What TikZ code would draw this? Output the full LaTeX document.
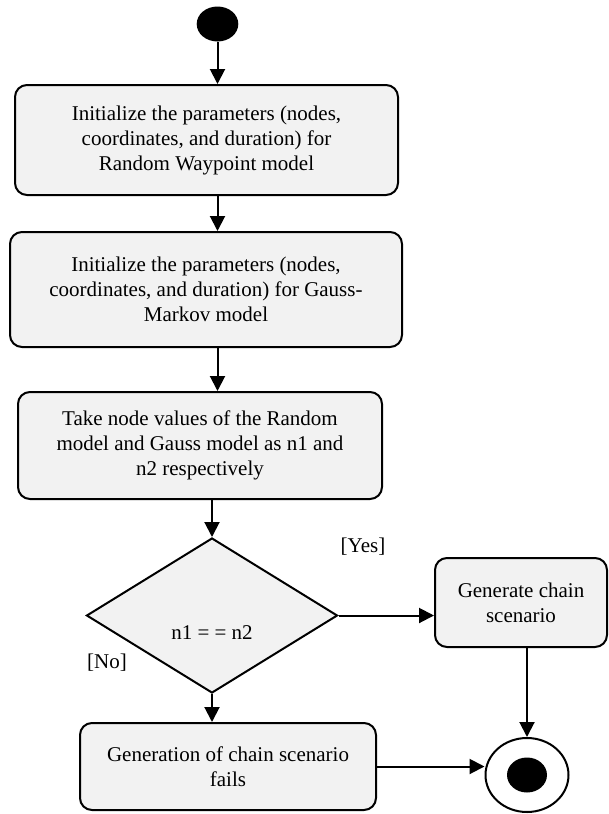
\documentclass[tikz,border=0pt]{standalone}
\usepackage{fontspec}
\setmainfont{Liberation Serif}
\usetikzlibrary{shapes.geometric,arrows.meta}
\definecolor{actfill}{RGB}{242,242,242}

\begin{document}
\begin{tikzpicture}[x=1pt,y=-1pt,
    action/.style={draw,line width=2pt,rounded corners=12pt,fill=actfill,
        align=center,inner sep=0pt,font=\rmfamily\fontsize{21}{25}\selectfont},
    decision/.style={draw,diamond,line width=2pt,fill=actfill,inner sep=0pt},
    flow/.style={line width=2pt,-{Triangle[length=15pt,width=15pt]}},
    guard/.style={font=\rmfamily\fontsize{21}{25}\selectfont}]
    \useasboundingbox (0,0) rectangle (608,814);

    % Start
    \node [ellipse,fill=black,minimum width=41.6pt,minimum height=35pt,inner sep=0pt] (start) at (217.5,24) {};

    % Actions
    \node [action,minimum width=383pt,minimum height=110pt] (act1) at (206.5,140)
        {Initialize the parameters (nodes,\\coordinates, and duration) for\\Random Waypoint model};
    \node [action,minimum width=392pt,minimum height=115pt] (act2) at (206,289.5)
        {Initialize the parameters (nodes,\\coordinates, and duration) for Gauss-\\Markov model};
    \node [action,minimum width=364pt,minimum height=107pt] (act3) at (200,445.5)
        {Take node values of the Random\\model and Gauss model as n1 and\\n2 respectively};

    % Decision
    \node [decision,minimum width=251pt,minimum height=155pt] (dec) at (212,615.5) {};
    \node [guard] (cond) at (212,633) {n1 = = n2};
    \node [guard] (yes) at (363,547) {[Yes]};
    \node [guard] (no) at (107,663) {[No]};

    \node [action,minimum width=172pt,minimum height=89pt] (gen) at (521,602.5)
        {Generate chain\\scenario};
    \node [action,minimum width=296pt,minimum height=87pt] (fail) at (228,766.5)
        {Generation of chain scenario\\fails};

    % End
    \node [ellipse,draw,line width=2pt,fill=white,minimum width=83pt,minimum height=74pt,inner sep=0pt] (stop) at (527,775) {};
    \node [ellipse,fill=black,minimum width=40pt,minimum height=35pt,inner sep=0pt] (stopdot) at (stop) {};

    % Flows
    \draw [flow] (start.south) -- (start.south |- act1.north);
    \draw [flow] (act1.south -| start) -- (act2.north -| start);
    \draw [flow] (act2.south -| start) -- (act3.north -| start);
    \draw [flow] (act3.south -| dec.north) -- (dec.north);
    \draw [flow] (dec.east) -- (dec.east -| gen.west);
    \draw [flow] (dec.south) -- (dec.south |- fail.north);
    \draw [flow] (stop.north |- gen.south) -- (stop.north);
    \draw [flow] (fail.east) -- (fail.east -| stop.west);
\end{tikzpicture}
\end{document}
